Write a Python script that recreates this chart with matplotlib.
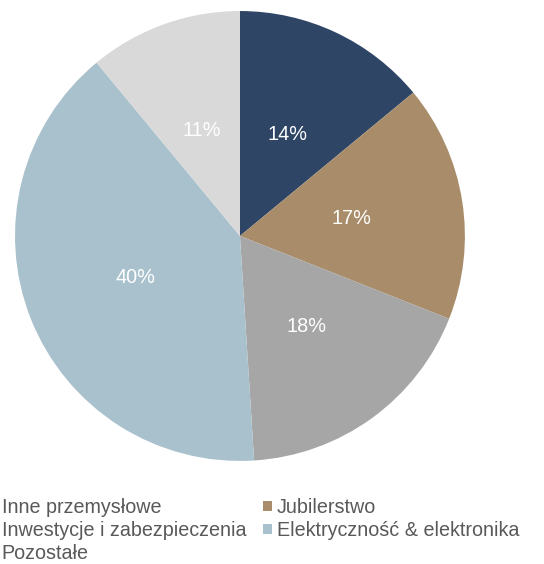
import matplotlib
matplotlib.use("Agg")
import matplotlib.pyplot as plt

# segments in drawing order (clockwise from 12 o'clock)
categories = ["Inne przemysłowe", "Jubilerstwo", "Inwestycje i zabezpieczenia",
              "Elektryczność & elektronika", "Pozostałe"]
shares = [14, 17, 18, 40, 11]
colors = ["#2E4566", "#A98D6A", "#A6A6A6", "#A9C1CD", "#D9D9D9"]

plt.rcParams["font.family"] = ["Liberation Sans", "DejaVu Sans"]

fig = plt.figure(figsize=(5.44, 5.64), dpi=100)
ax = fig.add_axes([0.0276, 0.1826, 0.827, 0.798])

wedges, texts, autotexts = ax.pie(
    shares, colors=colors, startangle=90, counterclock=False,
    autopct="%d%%", pctdistance=0.5,
    textprops={"color": "white", "fontsize": 14.3},
)
ax.set_xlim(-1, 1)
ax.set_ylim(-1, 1)
ax.set_aspect("equal")

# legend in two columns, filled row by row like the source
order = [0, 2, 4, 1, 3]
fig.legend([wedges[i] for i in order], [categories[i] for i in order],
           ncol=2, loc="upper left", bbox_to_anchor=(-0.022, 0.117),
           frameon=False, fontsize=14.2, handlelength=0.45, handleheight=0.45,
           handletextpad=0.25, columnspacing=0.85, labelspacing=0.2,
           borderpad=0, borderaxespad=0, labelcolor="#595959")

fig.savefig("out.png", dpi=100)
